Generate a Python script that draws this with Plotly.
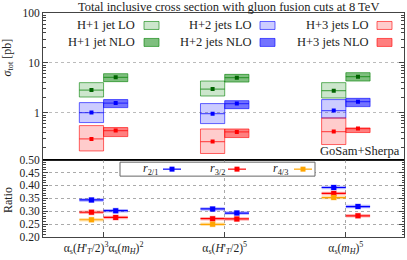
import plotly.graph_objects as go
from plotly.subplots import make_subplots
import math

# ---------------- data ----------------
scales = ["α<sub>s</sub>(<i>H</i>'<sub><i>T</i></sub>/2)<sup>3</sup>α<sub>s</sub>(<i>m<sub>H</sub></i>)<sup>2</sup>",
          "α<sub>s</sub>(<i>H</i>'<sub><i>T</i></sub>/2)<sup>5</sup>",
          "α<sub>s</sub>(<i>m<sub>H</sub></i>)<sup>5</sup>"]
group_pos = [0, 1, 2]

h1_lo_c = [2.86, 2.99, 2.78]
h1_lo_lo = [2.07, 2.17, 1.98]
h1_lo_hi = [4.02, 4.33, 4.02]
h1_nlo_c = [5.13, 5.06, 5.30]
h1_nlo_lo = [4.21, 4.13, 4.33]
h1_nlo_hi = [6.08, 5.89, 6.37]

h2_lo_c = [1.01, 0.96, 1.11]
h2_lo_lo = [0.637, 0.608, 0.787]
h2_lo_hi = [1.60, 1.53, 1.84]
h2_nlo_c = [1.57, 1.53, 1.67]
h2_nlo_lo = [1.27, 1.21, 1.33]
h2_nlo_hi = [1.84, 1.75, 1.95]

h3_lo_c = [0.299, 0.265, 0.421]
h3_lo_lo = [0.172, 0.153, 0.231]
h3_lo_hi = [0.554, 0.474, 0.787]
h3_nlo_c = [0.440, 0.413, 0.483]
h3_nlo_lo = [0.334, 0.319, 0.402]
h3_nlo_hi = [0.506, 0.474, 0.497]

r21_lo = [0.344, 0.309, 0.392]
r32_lo = [0.296, 0.271, 0.369]
r43_lo = [0.267, 0.249, 0.353]
r21_nlo = [0.302, 0.293, 0.318]
r32_nlo = [0.276, 0.270, 0.282]

legend_labels = [["H+1 jet LO", "H+1 jet NLO"], ["H+2 jets LO", "H+2 jets NLO"], ["H+3 jets LO", "H+3 jets NLO"]]
ratio_labels = ["<i>r</i><sub>2/1</sub>", "<i>r</i><sub>3/2</sub>", "<i>r</i><sub>4/3</sub>"]
title = "Total inclusive cross section with gluon fusion cuts at 8 TeV"

# ---------------- style ----------------
FONT = "Liberation Serif"
TXT = "#222222"
W, H = 407, 260
ML, MR, MT, MB = 43, 3, 12.5, 23
split = 77.5 / 224.5
colors = {
    "g": dict(lo="rgba(0,128,0,0.2)", nlo="rgba(0,128,0,0.5)", line="rgba(0,128,0,0.6)", mk="#006400"),
    "b": dict(lo="rgba(0,0,255,0.2)", nlo="rgba(0,0,255,0.55)", line="rgba(0,0,255,0.6)", mk="#0000ff"),
    "r": dict(lo="rgba(255,0,0,0.2)", nlo="rgba(255,0,0,0.5)", line="rgba(255,0,0,0.6)", mk="#ff0000"),
}
HALF = 0.1

def px(xp):
    return (xp - ML) / (W - ML - MR)

def py(yp):
    return (H - MB - yp) / (H - MB - MT)

fig = make_subplots(rows=2, cols=1, shared_xaxes=True, vertical_spacing=0,
                    row_heights=[1 - split, split])

sets = [
    ("g", h1_lo_c, h1_lo_lo, h1_lo_hi, h1_nlo_c, h1_nlo_lo, h1_nlo_hi),
    ("b", h2_lo_c, h2_lo_lo, h2_lo_hi, h2_nlo_c, h2_nlo_lo, h2_nlo_hi),
    ("r", h3_lo_c, h3_lo_lo, h3_lo_hi, h3_nlo_c, h3_nlo_lo, h3_nlo_hi),
]
for key, lc, llo, lhi, nc, nlo, nhi in sets:
    c = colors[key]
    for cen, lo, hi, shift, fill in [(lc, llo, lhi, -HALF, c["lo"]), (nc, nlo, nhi, HALF, c["nlo"])]:
        xs = [g + shift for g in group_pos]
        fig.add_trace(go.Bar(x=xs, y=[h - l for h, l in zip(hi, lo)], base=lo, width=2 * HALF,
                             marker=dict(color=fill, line=dict(color=c["line"], width=1)),
                             showlegend=False, hoverinfo="skip"), row=1, col=1)
        fig.add_trace(go.Scatter(x=xs, y=cen, mode="markers",
                                 marker=dict(symbol="square", size=4, color=c["mk"]),
                                 error_x=dict(type="constant", value=HALF, width=0, thickness=1.2, color=c["line"]),
                                 showlegend=False, hoverinfo="skip"), row=1, col=1)

ratio_sets = [
    (r21_lo, -HALF, "#0000ff", "rgba(0,0,255,0.3)"),
    (r32_lo, -HALF, "#ff0000", "rgba(255,0,0,0.3)"),
    (r43_lo, -HALF, "#ffa500", "rgba(255,165,0,0.3)"),
    (r21_nlo, HALF, "#0000ff", "rgba(0,0,255,0.3)"),
    (r32_nlo, HALF, "#ff0000", "rgba(255,0,0,0.3)"),
]
for vals, shift, col, band in ratio_sets:
    xs = [g + shift for g in group_pos]
    fig.add_trace(go.Scatter(x=xs, y=vals, mode="markers",
                             marker=dict(symbol="square", size=6, color=band),
                             error_x=dict(type="constant", value=HALF, width=0, thickness=3.5, color=band),
                             showlegend=False, hoverinfo="skip"), row=2, col=1)
    fig.add_trace(go.Scatter(x=xs, y=vals, mode="markers",
                             marker=dict(symbol="square", size=5, color=col),
                             error_x=dict(type="constant", value=HALF, width=0, thickness=1.2, color=col),
                             showlegend=False, hoverinfo="skip"), row=2, col=1)

AX = "#444444"
fig.update_xaxes(range=[-0.5, 2.48], showline=True, linecolor=AX, linewidth=1, mirror=True,
                 zeroline=False)
fig.update_xaxes(row=1, col=1, showgrid=False, ticks="", showticklabels=False)
fig.update_xaxes(row=2, col=1, tickvals=group_pos, ticktext=scales, ticks="inside", ticklen=5,
                 tickcolor=AX, showgrid=True, gridcolor="#aaaaaa", griddash="dot", gridwidth=1,
                 tickfont=dict(family=FONT, size=11.5, color=TXT))

fig.update_yaxes(row=1, col=1, type="log", range=[math.log10(0.115), 2], dtick=1,
                 tickvals=[1, 10, 100], ticktext=["1", "10", "100"],
                 ticks="inside", ticklen=5, tickcolor=AX, showline=True, linecolor=AX, mirror="ticks",
                 showgrid=True, gridcolor="#bbbbbb", griddash="dot", zeroline=False,
                 minor=dict(ticks="inside", ticklen=3, tickcolor=AX, showgrid=False,
                            tickvals=[m * 10 ** e for e in (-1, 0, 1) for m in range(2, 10)]),
                 tickfont=dict(family=FONT, size=11.5, color=TXT))
fig.update_yaxes(row=2, col=1, range=[0.2, 0.5], tickvals=[0.2, 0.25, 0.3, 0.35, 0.4, 0.45, 0.5],
                 tickformat=".2f", ticks="inside", ticklen=5, tickcolor=AX, showline=True, linecolor=AX,
                 mirror="ticks", showgrid=True, gridcolor="#aaaaaa", griddash="dot", zeroline=False,
                 minor=dict(ticks="inside", ticklen=2.5, dtick=0.01, tick0=0.2, tickcolor=AX, showgrid=False),
                 tickfont=dict(family=FONT, size=11.5, color=TXT))

shapes = []
annotations = []
# separator
shapes.append(dict(type="line", xref="paper", yref="paper", x0=0, x1=1, y0=split, y1=split,
                   line=dict(color="black", width=1.5)))

# top legend (text left of swatch)
text_right = [137, 254, 371]
sw_left = [144, 260, 377]
rows_y = [25, 42]
for i, key in enumerate(["g", "b", "r"]):
    c = colors[key]
    for j, fill in enumerate([c["lo"], c["nlo"]]):
        yc = rows_y[j]
        annotations.append(dict(text=legend_labels[i][j], xref="paper", yref="paper",
                                x=px(text_right[i]), y=py(yc), xanchor="right", yanchor="middle",
                                showarrow=False, font=dict(family=FONT, size=12.5, color=TXT)))
        shapes.append(dict(type="rect", xref="paper", yref="paper",
                           x0=px(sw_left[i]), x1=px(sw_left[i] + 15), y0=py(yc - 4), y1=py(yc + 4),
                           fillcolor=fill, line=dict(color=c["line"], width=1)))

# ratio legend box
shapes.append(dict(type="rect", xref="paper", yref="paper", x0=px(120), x1=px(315), y0=py(176), y1=py(162),
                   fillcolor="white", line=dict(color="#666666", width=1)))
rl_text_right = [160, 227, 290]
rl_mark = [172, 237, 303]
rl_cols = ["#0000ff", "#ff0000", "#ffa500"]
for i in range(3):
    annotations.append(dict(text=ratio_labels[i], xref="paper", yref="paper", x=px(rl_text_right[i]),
                            y=py(169), xanchor="right", yanchor="middle", showarrow=False,
                            font=dict(family=FONT, size=12, color=TXT)))
    shapes.append(dict(type="line", xref="paper", yref="paper", x0=px(rl_mark[i] - 9), x1=px(rl_mark[i] + 9),
                       y0=py(169), y1=py(169), line=dict(color=rl_cols[i], width=1.2)))
    shapes.append(dict(type="rect", xref="paper", yref="paper", x0=px(rl_mark[i] - 2.5), x1=px(rl_mark[i] + 2.5),
                       y0=py(171.5), y1=py(166.5), fillcolor=rl_cols[i], line=dict(width=0)))

annotations += [
    dict(text=title, xref="paper", yref="paper", x=px(228), y=py(6.5), xanchor="center", yanchor="middle",
         borderpad=0, showarrow=False, font=dict(family=FONT, size=12.5, color=TXT)),
    dict(text="<i>σ</i><sub>tot</sub> [pb]", xref="paper", yref="paper", x=px(8), y=py(57), xanchor="center",
         yanchor="middle", textangle=-90, showarrow=False, font=dict(family=FONT, size=12, color=TXT)),
    dict(text="Ratio", xref="paper", yref="paper", x=px(8), y=py(200), xanchor="center", yanchor="middle",
         textangle=-90, showarrow=False, font=dict(family=FONT, size=12, color=TXT)),
    dict(text="GoSam+Sherpa", xref="paper", yref="paper", x=px(402), y=py(151), xanchor="right",
         yanchor="middle", showarrow=False, font=dict(family=FONT, size=12.5, color=TXT)),
]

fig.update_layout(width=W, height=H, margin=dict(l=ML, r=MR, t=MT, b=MB, pad=0, autoexpand=False),
                  paper_bgcolor="white", plot_bgcolor="white", barmode="overlay",
                  shapes=shapes, annotations=annotations, showlegend=False,
                  font=dict(family=FONT, color=TXT))

fig.write_html("out.html", config={"displayModeBar": False},
               post_script="document.body.style.margin='0';document.body.style.overflow='hidden';")
